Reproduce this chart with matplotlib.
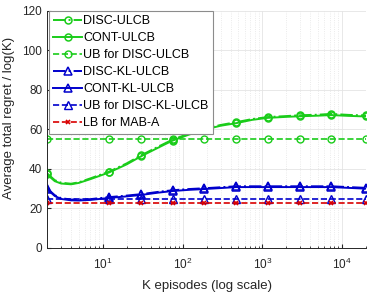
import matplotlib
matplotlib.use("Agg")
import matplotlib.pyplot as plt

# K values (curve samples) and which ones get markers
k_vals = [2, 2.5, 3, 4, 5, 7, 12, 20, 30, 50, 75, 120, 187, 300, 469, 750,
          1172, 2000, 2930, 5000, 7324, 12000, 20000]
mark_idx = [0, 6, 8, 10, 12, 14, 16, 18, 20, 22]

disc_ulcb = [37.8, 34.3, 33.0, 32.5, 33.2, 35.2, 38.6, 42.8, 46.8, 51.3, 54.8, 57.8,
             60.2, 62.2, 63.6, 65.2, 66.2, 66.7, 67.1, 67.4, 67.8, 67.3, 67.0]
cont_ulcb = [37.2, 33.8, 32.6, 32.2, 32.9, 34.8, 38.2, 42.3, 46.3, 50.8, 54.3, 57.3,
             59.8, 61.8, 63.1, 64.8, 65.8, 66.3, 66.6, 66.9, 67.2, 66.8, 66.5]
disc_kl_ulcb = [30.2, 26.7, 25.2, 24.5, 24.4, 24.7, 25.7, 26.5, 27.2, 28.4, 29.2, 29.8,
                30.2, 30.7, 31.2, 31.2, 31.2, 31.2, 31.2, 31.2, 31.2, 30.8, 30.4]
cont_kl_ulcb = [29.8, 26.3, 24.8, 24.1, 24.0, 24.3, 25.3, 26.1, 26.8, 28.0, 28.8, 29.4,
                29.8, 30.3, 30.8, 30.8, 30.8, 30.8, 30.8, 30.8, 30.8, 30.4, 30.0]
ub_disc_ulcb = 55.2
ub_disc_kl_ulcb = 24.8
lb_mab_a = 22.5

green = (0.1, 0.8, 0.1)
blue = (0.0, 0.0, 0.8)
red = (0.85, 0.0, 0.0)

plt.rcParams['font.family'] = ['Liberation Sans', 'DejaVu Sans']
plt.rcParams['mathtext.fontset'] = 'custom'
plt.rcParams['mathtext.rm'] = 'Liberation Sans'

fig = plt.figure(figsize=(3.74, 2.96), dpi=100)
ax = fig.add_axes([0.1257, 0.1622, 0.853, 0.8018])

mk_x = [k_vals[i] for i in mark_idx]

ax.plot(k_vals, disc_ulcb, '-.', color=green, lw=1.4, marker='o', ms=5,
        mfc='none', mew=1.1, markevery=mark_idx, label='DISC-ULCB')
ax.plot(k_vals, cont_ulcb, '-', color=green, lw=1.4, marker='o', ms=5,
        mfc='none', mew=1.1, markevery=mark_idx, label='CONT-ULCB')
ax.plot(mk_x, [ub_disc_ulcb] * len(mk_x), '--', color=green, lw=1.2, marker='o',
        ms=5, mfc='none', mew=1.0, label='UB for DISC-ULCB')
ax.plot(k_vals, disc_kl_ulcb, '-.', color=blue, lw=1.4, marker='^', ms=5.5,
        mfc='none', mew=1.1, markevery=mark_idx, label='DISC-KL-ULCB')
ax.plot(k_vals, cont_kl_ulcb, '-', color=blue, lw=1.4, marker='^', ms=5.5,
        mfc='none', mew=1.1, markevery=mark_idx, label='CONT-KL-ULCB')
ax.plot(mk_x, [ub_disc_kl_ulcb] * len(mk_x), '--', color=blue, lw=1.2, marker='^',
        ms=5.5, mfc='none', mew=1.0, label='UB for DISC-KL-ULCB')
ax.plot(mk_x, [lb_mab_a] * len(mk_x), '--', color=red, lw=1.2, marker='x',
        ms=3.5, mew=1.2, label='LB for MAB-A')

ax.set_xscale('log')
ax.set_xlim(2, 20000)
ax.set_ylim(0, 120)
ax.set_yticks([0, 20, 40, 60, 80, 100, 120])
ax.set_xticks([10, 100, 1000, 10000])

ax.grid(True, which='major', color='#e4e4e4', lw=0.6)
ax.grid(True, which='minor', axis='x', color='#e4e4e4', lw=0.6, ls=':')
ax.set_axisbelow(True)
ax.spines['top'].set_visible(False)
ax.spines['right'].set_visible(False)
for s in ['left', 'bottom']:
    ax.spines[s].set_color('#262626')
    ax.spines[s].set_linewidth(0.7)
ax.tick_params(which='both', direction='in', labelsize=8.5, colors='#262626')
ax.tick_params(which='major', length=3)
ax.tick_params(which='minor', length=1.5)
ax.tick_params(axis='x', which='major', pad=6)

ax.set_xlabel('K episodes (log scale)', fontsize=9.5, color='#262626', labelpad=6)
ax.set_ylabel('Average total regret / log(K)', fontsize=9.5, color='#262626')
ax.yaxis.set_label_coords(-0.1, 0.55)

leg = ax.legend(loc='upper left', bbox_to_anchor=(49 / 374, 1 - 11 / 296),
                bbox_transform=fig.transFigure, borderaxespad=0, fontsize=9,
                handlelength=2.3, handletextpad=0.1, labelspacing=0.4,
                borderpad=0.35, fancybox=False, numpoints=1, framealpha=1)
leg.get_frame().set_edgecolor('#8c8c8c')
leg.get_frame().set_linewidth(0.8)

fig.savefig('out.png', dpi=100)
